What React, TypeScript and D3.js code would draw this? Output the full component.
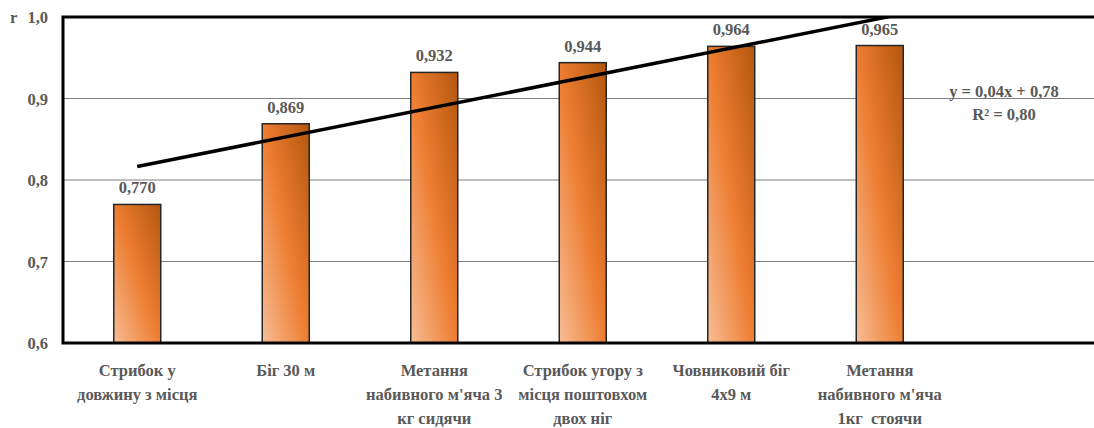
import * as d3 from "d3";

const categories: string[][] = [
  ["Стрибок у", "довжину з місця"],
  ["Біг 30 м"],
  ["Метання", "набивного м'яча 3", "кг сидячи"],
  ["Стрибок угору з", "місця поштовхом", "двох ніг"],
  ["Човниковий біг", "4х9 м"],
  ["Метання", "набивного м'яча", "1кг  стоячи"],
];
const values = [0.77, 0.869, 0.932, 0.944, 0.964, 0.965];
const valueLabels = ["0,770", "0,869", "0,932", "0,944", "0,964", "0,965"];
const yTicks = [0.6, 0.7, 0.8, 0.9, 1.0];
const yTickLabels = ["0,6", "0,7", "0,8", "0,9", "1,0"];
const equationText = "y = 0,04x + 0,78";
const r2Text = "R² = 0,80";

const W = 1094;
const H = 428;
const left = 63;
const top = 17;
const bottom = 343;
const slots = 7; // six bars plus empty slot holding the trend label
const bandW = 148.5;
const right = left + slots * bandW;
const barW = 47;
const TEXT = "#595959";
const FONT = "'Times New Roman', Times, 'Liberation Serif', serif";

export default function App() {
  const x = d3
    .scaleBand<number>()
    .domain(d3.range(slots))
    .range([left, right])
    .padding(0);
  const y = d3.scaleLinear().domain([0.6, 1.0]).range([bottom, top]);
  const cx = (i: number) => (x(i) ?? 0) + x.bandwidth() / 2;

  // linear trend over bar index 1..n
  const xs = values.map((_, i) => i + 1);
  const mx = d3.mean(xs)!;
  const my = d3.mean(values)!;
  const slope =
    d3.sum(xs, (xi, i) => (xi - mx) * (values[i] - my)) /
    d3.sum(xs, (xi) => (xi - mx) ** 2);
  const intercept = my - slope * mx;
  const trendPts: [number, number][] = [
    [1, intercept + slope * 1],
    [6.08, intercept + slope * 6.08],
  ];
  const trendLine = d3
    .line<[number, number]>()
    .x((d) => cx(0) + (d[0] - 1) * x.bandwidth())
    .y((d) => y(d[1]));

  const textStyle = {
    fontFamily: FONT,
    fontWeight: "bold" as const,
    fontSize: "16.5px",
    fill: TEXT,
    whiteSpace: "pre" as const,
  };

  return (
    <svg
      width={W}
      height={H}
      style={{ position: "absolute", left: 0, top: 0, background: "#fff" }}
    >
      <defs>
        <linearGradient id="barGrad" x1="0" y1="1" x2="1" y2="0">
          <stop offset="0" stopColor="#f7bd95" />
          <stop offset="0.5" stopColor="#ed7d31" />
          <stop offset="1" stopColor="#b4560f" />
        </linearGradient>
        <clipPath id="plotClip">
          <rect x={left} y={top} width={right - left} height={bottom - top} />
        </clipPath>
      </defs>

      {/* gridlines */}
      {yTicks.slice(1, -1).map((t) => (
        <line
          key={t}
          x1={left}
          x2={right}
          y1={y(t)}
          y2={y(t)}
          stroke="#7f7f7f"
          strokeWidth={1.2}
        />
      ))}

      {/* bars */}
      {values.map((v, i) => (
        <rect
          key={i}
          x={cx(i) - barW / 2}
          y={y(v)}
          width={barW}
          height={bottom - y(v)}
          fill="url(#barGrad)"
          stroke="#262626"
          strokeWidth={1.5}
        />
      ))}

      {/* trend line */}
      <path
        d={trendLine(trendPts) ?? ""}
        fill="none"
        stroke="#000"
        strokeWidth={3.5}
        clipPath="url(#plotClip)"
      />

      {/* plot frame */}
      <path
        d={`M${right},${top}H${left}V${bottom}H${right}`}
        fill="none"
        stroke="#000"
        strokeWidth={3}
      />

      {/* value labels */}
      {values.map((v, i) => (
        <text key={i} x={cx(i)} y={y(v) - 11} textAnchor="middle" style={textStyle}>
          {valueLabels[i]}
        </text>
      ))}

      {/* y tick labels */}
      {yTicks.map((t, i) => (
        <text key={t} x={48} y={y(t) + 6} textAnchor="end" style={textStyle}>
          {yTickLabels[i]}
        </text>
      ))}
      <text x={10} y={y(1.0) + 6} style={textStyle}>
        r
      </text>

      {/* category labels */}
      {categories.map((lines, i) => (
        <text key={i} x={cx(i)} y={376} textAnchor="middle" style={textStyle}>
          {lines.map((ln, j) => (
            <tspan key={j} x={cx(i)} dy={j === 0 ? 0 : 24}>
              {ln}
            </tspan>
          ))}
        </text>
      ))}

      {/* trend equation */}
      <text x={1004} y={97} textAnchor="middle" style={textStyle}>
        {equationText}
      </text>
      <text x={1004} y={120} textAnchor="middle" style={textStyle}>
        {r2Text}
      </text>
    </svg>
  );
}
